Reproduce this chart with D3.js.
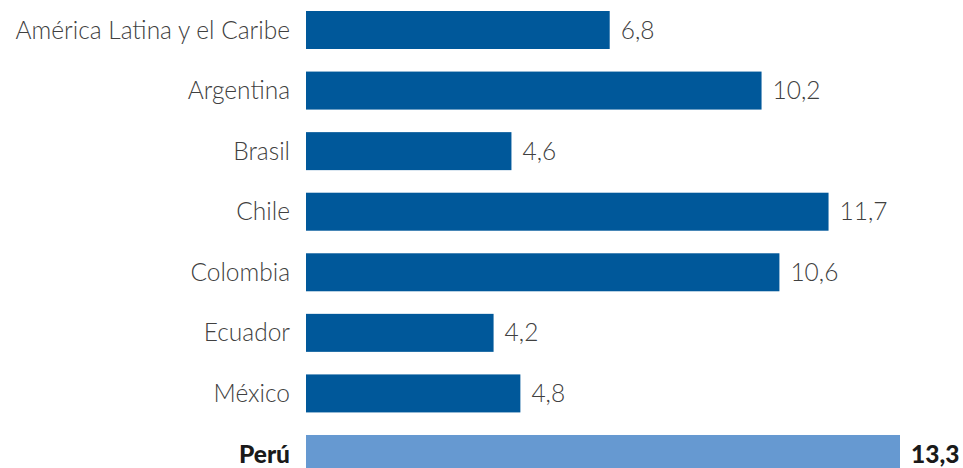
<!DOCTYPE html>
<html>
<head>
<meta charset="utf-8">
<script src="https://cdn.jsdelivr.net/npm/d3@7"></script>
<style>
  body { margin: 0; background: #fff; }
  text { font-family: "Source Sans Pro", Lato, "Noto Sans", sans-serif; }
</style>
</head>
<body>
<div id="chart"></div>
<script>
// data
const countries = ["América Latina y el Caribe", "Argentina", "Brasil", "Chile", "Colombia", "Ecuador", "México", "Perú"];
const values = [6.8, 10.2, 4.6, 11.7, 10.6, 4.2, 4.8, 13.3];
const valueLabels = ["6,8", "10,2", "4,6", "11,7", "10,6", "4,2", "4,8", "13,3"];
const highlight = "Perú";

const width = 963;
const height = 468;
const margin = { top: 11, left: 306 };
const step = 60.57;
const barH = 38;

const rows = countries.map((c, i) => ({ name: c, value: values[i], label: valueLabels[i] }));

const svg = d3.select('#chart').append('svg')
  .attr("width", width)
  .attr("height", height);

const xScale = d3.scaleLinear()
  .domain([0, 13.3])
  .range([margin.left, margin.left + 594]);

const yScale = d3.scaleBand()
  .domain(countries)
  .range([margin.top, margin.top + step * countries.length - (step - barH)])
  .paddingInner(1 - barH / step)
  .paddingOuter(0);

// bars
svg.selectAll('.bar')
  .data(rows)
  .enter().append('rect')
  .attr('class', 'bar')
  .attr('x', xScale(0))
  .attr('y', d => yScale(d.name))
  .attr('width', d => xScale(d.value) - xScale(0))
  .attr('height', yScale.bandwidth())
  .attr('fill', d => d.name == highlight ? '#6699d1' : '#00589a');

// category labels
svg.selectAll('.cat')
  .data(rows)
  .enter().append('text')
  .attr('class', 'cat')
  .attr('x', xScale(0) - 16)
  .attr('y', d => yScale(d.name) + yScale.bandwidth() / 2)
  .attr('dy', '0.35em')
  .attr('text-anchor', 'end')
  .attr('font-size', '24.5px')
  .attr('font-weight', d => d.name == highlight ? 900 : 300)
  .attr('fill', d => d.name == highlight ? '#1a1a1a' : '#404040')
  .text(d => d.name);

// value labels
svg.selectAll('.val')
  .data(rows)
  .enter().append('text')
  .attr('class', 'val')
  .attr('x', d => xScale(d.value) + 11)
  .attr('y', d => yScale(d.name) + yScale.bandwidth() / 2)
  .attr('dy', '0.35em')
  .attr('font-size', '24.5px')
  .attr('font-weight', d => d.name == highlight ? 900 : 300)
  .attr('fill', d => d.name == highlight ? '#1a1a1a' : '#404040')
  .text(d => d.label);
</script>
</body>
</html>
